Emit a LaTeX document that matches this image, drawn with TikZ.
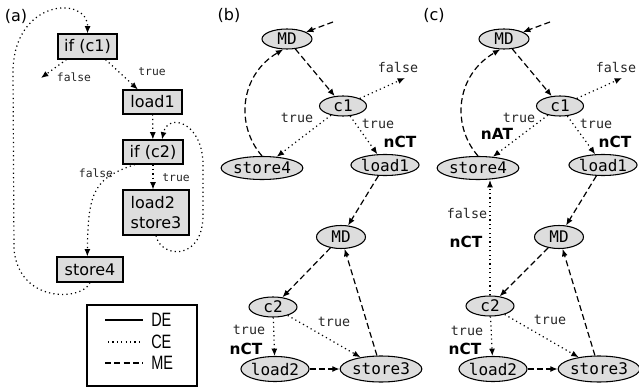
\documentclass[tikz,border=0pt]{standalone}
\usepackage{fontspec}
\usetikzlibrary{shapes.geometric,arrows.meta}
\newfontfamily\boxfont{DejaVu Sans}
\newfontfamily\monofont{DejaVu Sans Mono}
\newfontfamily\keyfont[FakeStretch=0.75]{Liberation Sans}
\definecolor{nodegray}{RGB}{221,221,221}

\begin{document}
\begin{tikzpicture}[x=0.75pt,y=-0.75pt,
  >={Latex[length=5.5pt,width=4.5pt]},
  every node/.style={inner sep=0pt},
  panel/.style={font=\boxfont\fontsize{12}{14}\selectfont},
  blk/.style={draw, fill=nodegray, line width=0.8pt, font=\boxfont\fontsize{12}{15}\selectfont},
  bubble/.style={ellipse, draw, fill=nodegray, line width=0.8pt, font=\monofont\fontsize{12}{13}\selectfont},
  lbs/.style={font=\monofont\fontsize{8.5}{10}\selectfont, text=black!85},
  lbl/.style={font=\monofont\fontsize{10}{11}\selectfont, text=black!85},
  tag/.style={font=\boxfont\bfseries\fontsize{11.5}{12}\selectfont},
  key/.style={font=\keyfont\fontsize{14.5}{15}\selectfont},
  deline/.style={line width=0.8pt},
  celine/.style={line width=0.9pt, dash pattern=on 0.9pt off 2.4pt},
  meline/.style={line width=0.9pt, dash pattern=on 4.5pt off 2.5pt}]
\useasboundingbox (0,0) rectangle (639,392);

% (a) control flow graph
\node[panel] (pa) at (16,16) {(a)};
\node[blk, minimum width=44.25pt, minimum height=18.75pt] (ifa) at (87.5,46.5) {if (c1)};
\node[blk, minimum width=44.25pt, minimum height=18pt] (ldone) at (152.5,102) {load1};
\node[blk, minimum width=45pt, minimum height=18pt] (iftwo) at (153,152) {if (c2)};
\node[blk, minimum width=49.5pt, minimum height=33.75pt, align=left] (ldst) at (156,212.5) {load2\\store3};
\node[blk, minimum width=49.5pt, minimum height=18.75pt] (stfour) at (90,269.5) {store4};
\node[lbs] (fa) at (74,77) {false};
\node[lbs] (ta) at (152,72) {true};
\node[lbs] (fb) at (96,173) {false};
\node[lbs] (tb) at (176,178) {true};
\coordinate (fenda) at (41,78);

\draw[celine,->] ([xshift=6.75pt]ifa.south west) -- (fenda);
\draw[celine,->] ([xshift=-9pt]ifa.south east) -- ([xshift=-11pt]ldone.north);
\draw[celine,->] (ldone) -- (iftwo);
\draw[celine,->] (iftwo.south) -- (iftwo.south |- ldst.north);
\draw[celine,->] ([xshift=-13.5pt]iftwo.south) .. controls (95,178) and (88,190) .. ([xshift=-2pt]stfour.north);
\draw[celine,->] (stfour.south) .. controls (84,300) and (20,305) .. (14,250) -- (13,70)
  .. controls (15,-2) and (88,-4) .. (ifa.north);
\draw[celine,->] (ldst.south) .. controls (160,258) and (203,262) .. (203,215) -- (203,165)
  .. controls (203,122) and (168,112) .. ([xshift=6.75pt]iftwo.north);

% legend
\draw[line width=0.8pt] (87,305) rectangle (197,386);
\node[key, anchor=west] (kde) at (151,320) {DE};
\node[key, anchor=west] (kce) at (151,342) {CE};
\node[key, anchor=west] (kme) at (151,363) {ME};
\draw[deline] (105,320) -- (143,320);
\draw[celine] (108,342) -- (143,342);
\draw[meline] (105,363) -- (143,363);

% (b)
\node[panel] (pb) at (229,15) {(b)};
\node[bubble, minimum width=37.5pt, minimum height=15pt] (mdb) at (287,39) {MD};
\node[bubble, minimum width=35.25pt, minimum height=15pt] (conb) at (343,106) {c1};
\node[bubble, minimum width=60pt, minimum height=17.25pt] (stb) at (262,168) {store4};
\node[bubble, minimum width=50.25pt, minimum height=15.75pt] (ldb) at (385,165) {load1};
\node[bubble, minimum width=36.75pt, minimum height=17.25pt] (mdtb) at (341,237) {MD};
\node[bubble, minimum width=36pt, minimum height=15pt] (ctb) at (273,307) {c2};
\node[bubble, minimum width=51pt, minimum height=18.75pt] (ldtb) at (275,369) {load2};
\node[bubble, minimum width=58.5pt, minimum height=19.5pt] (sttb) at (381,369) {store3};
\coordinate (inb) at (333,22);
\coordinate (fendb) at (405,78);
\node[lbl] (fc1b) at (398,67) {false};
\node[lbl] (tsb) at (297,118) {true};
\node[lbl] (tlb) at (378,124) {true};
\node[tag] (nb1) at (400,142) {nCT};
\node[lbl] (tc2b) at (249,330) {true};
\node[tag] (nb2) at (246,349) {nCT};
\node[lbl] (tstb) at (334,322) {true};

\draw[meline,->] (inb) -- (mdb);
\draw[meline,->] (mdb) -- (conb);
\draw[celine,->] (conb) -- (fendb);
\draw[celine,->] (conb) -- (stb);
\draw[meline,->] (stb.north) .. controls (235,125) and (240,75) .. (mdb.250);
\draw[celine,->] (conb) -- (ldb);
\draw[meline,->] (ldb) -- (mdtb);
\draw[meline,->] (mdtb) -- (ctb);
\draw[celine,->] (ctb) -- (ldtb);
\draw[celine,->] (ctb) -- (sttb);
\draw[meline,->] (ldtb) -- (sttb);
\draw[meline,->] (sttb) -- (mdtb);

% (c)
\node[panel] (pc) at (434,15) {(c)};
\node[bubble, minimum width=37.5pt, minimum height=15pt] (mdc) at (504,39) {MD};
\node[bubble, minimum width=35.25pt, minimum height=15pt] (conc) at (560,106) {c1};
\node[bubble, minimum width=60pt, minimum height=17.25pt] (stc) at (478,168) {store4};
\node[bubble, minimum width=51pt, minimum height=15.75pt] (ldc) at (603,165) {load1};
\node[bubble, minimum width=36.75pt, minimum height=17.25pt] (mdtc) at (559,237) {MD};
\node[bubble, minimum width=36pt, minimum height=15pt] (ctc) at (490,306) {c2};
\node[bubble, minimum width=51pt, minimum height=18.75pt] (ldtc) at (493,369) {load2};
\node[bubble, minimum width=58.5pt, minimum height=19.5pt] (sttc) at (599,369) {store3};
\coordinate (inc) at (550,22);
\coordinate (fendc) at (622,78);
\node[lbl] (fc1c) at (616,67) {false};
\node[lbl] (tsc) at (519,118) {true};
\node[tag] (nc0) at (497,134) {nAT};
\node[lbl] (tlc) at (596,124) {true};
\node[tag] (nc1) at (615,142) {nCT};
\node[lbl] (fc2c) at (467,213) {false};
\node[tag] (nc2) at (466,242) {nCT};
\node[lbl] (tc2c) at (467,331) {true};
\node[tag] (nc3) at (465,349) {nCT};
\node[lbl] (tstc) at (550,320) {true};

\draw[meline,->] (inc) -- (mdc);
\draw[meline,->] (mdc) -- (conc);
\draw[celine,->] (conc) -- (fendc);
\draw[celine,->] (conc) -- (stc);
\draw[meline,->] (stc.north) .. controls (451,125) and (456,75) .. (mdc.250);
\draw[celine,->] (conc) -- (ldc);
\draw[meline,->] (ldc) -- (mdtc);
\draw[meline,->] (mdtc) -- (ctc);
\draw[celine,->] (ctc.north) -- (ctc.north |- stc.south);
\draw[celine,->] (ctc) -- (ldtc);
\draw[celine,->] (ctc) -- (sttc);
\draw[meline,->] (ldtc) -- (sttc);
\draw[meline,->] (sttc) -- (mdtc);
\end{tikzpicture}
\end{document}
